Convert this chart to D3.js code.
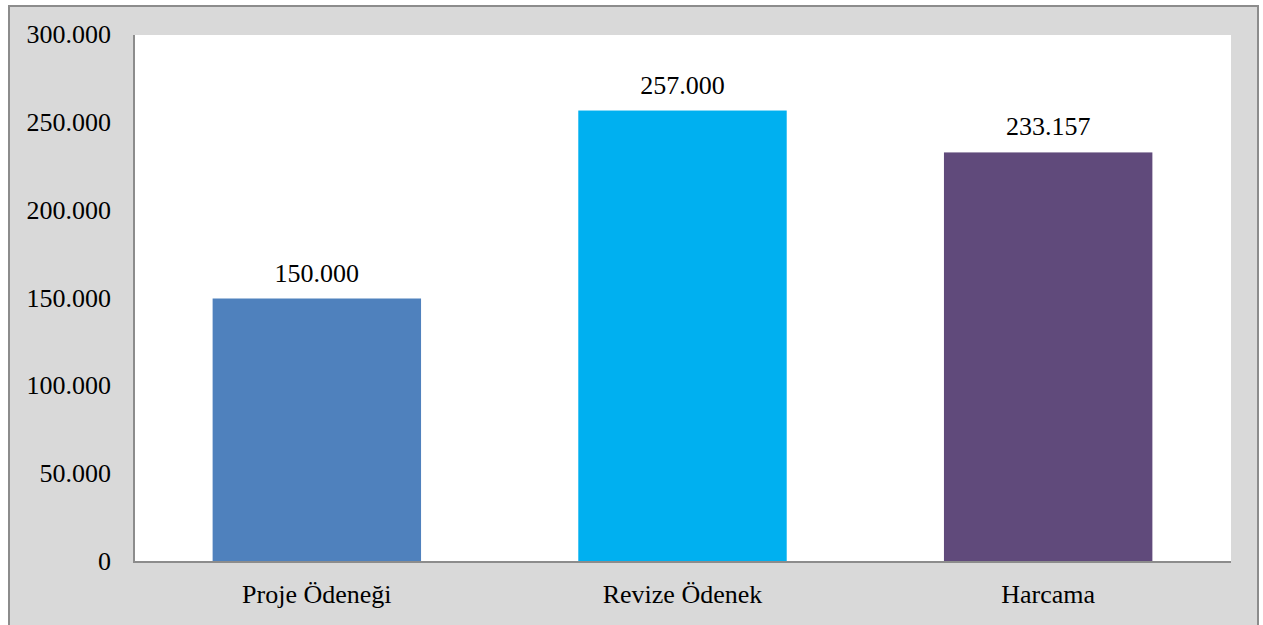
<!DOCTYPE html>
<html>
<head>
<meta charset="utf-8">
<script src="https://cdn.jsdelivr.net/npm/d3@7"></script>
<style>
  html, body { margin: 0; padding: 0; background: #fff; overflow: hidden; }
  svg { display: block; }
  svg text { font-family: "Liberation Serif", "Times New Roman", serif; fill: #000; font-size: 26px; }
</style>
</head>
<body>
<svg class="chart"></svg>
<script>
const categories = ['Proje Ödeneği', 'Revize Ödenek', 'Harcama']
const values = [150000, 257000, 233157]
const colors = ['#4f81bd', '#00b0f0', '#604a7b']
const yTicks = [0, 50000, 100000, 150000, 200000, 250000, 300000]

const width = 1263
const height = 625
const plotLeft = 134
const plotRight = 1231
const plotTop = 35
const plotBottom = 562

const locale = d3.formatLocale({ decimal: ',', thousands: '.', grouping: [3], currency: ['', ''] })
const fmt = locale.format(',d')

const chart = d3.select('.chart')
  .attr('width', width)
  .attr('height', height)

// outer frame
chart.append('rect')
  .attr('x', 9).attr('y', 6)
  .attr('width', 1249).attr('height', 640)
  .attr('fill', '#d9d9d9')
  .attr('stroke', '#8c8c8c')
  .attr('stroke-width', 2)

const xScale = d3.scaleBand()
  .domain(categories)
  .range([plotLeft, plotRight])
  .paddingInner(0.43)
  .paddingOuter(0.215)

const yScale = d3.scaleLinear()
  .domain([0, 300000])
  .range([plotBottom, plotTop])

chart.append('rect')
  .attr('x', plotLeft).attr('y', plotTop)
  .attr('width', plotRight - plotLeft).attr('height', plotBottom - plotTop)
  .attr('fill', '#fff')

chart.append('g').attr('class', 'bars')
  .selectAll('rect')
  .data(values)
  .enter()
  .append('rect')
  .attr('x', (d, i) => xScale(categories[i]))
  .attr('y', d => yScale(d))
  .attr('width', xScale.bandwidth())
  .attr('height', d => yScale(0) - yScale(d))
  .attr('fill', (d, i) => colors[i])

chart.append('g').attr('class', 'labels')
  .selectAll('text')
  .data(values)
  .enter()
  .append('text')
  .attr('x', (d, i) => xScale(categories[i]) + xScale.bandwidth() / 2)
  .attr('y', d => yScale(d) - 17)
  .attr('text-anchor', 'middle')
  .text(d => fmt(d))

// axes lines
chart.append('line')
  .attr('x1', plotLeft).attr('x2', plotLeft)
  .attr('y1', plotTop).attr('y2', plotBottom + 1)
  .attr('stroke', '#8c8c8c').attr('stroke-width', 2)
chart.append('line')
  .attr('x1', plotLeft).attr('x2', plotRight)
  .attr('y1', plotBottom).attr('y2', plotBottom)
  .attr('stroke', '#8c8c8c').attr('stroke-width', 2)

chart.append('g').attr('class', 'axisLeft')
  .selectAll('text')
  .data(yTicks)
  .enter()
  .append('text')
  .attr('x', 111)
  .attr('y', d => yScale(d) + 8)
  .attr('text-anchor', 'end')
  .text(d => fmt(d))

chart.append('g').attr('class', 'axisBottom')
  .selectAll('text')
  .data(categories)
  .enter()
  .append('text')
  .attr('x', d => xScale(d) + xScale.bandwidth() / 2)
  .attr('y', 603)
  .attr('text-anchor', 'middle')
  .text(d => d)
</script>
</body>
</html>
